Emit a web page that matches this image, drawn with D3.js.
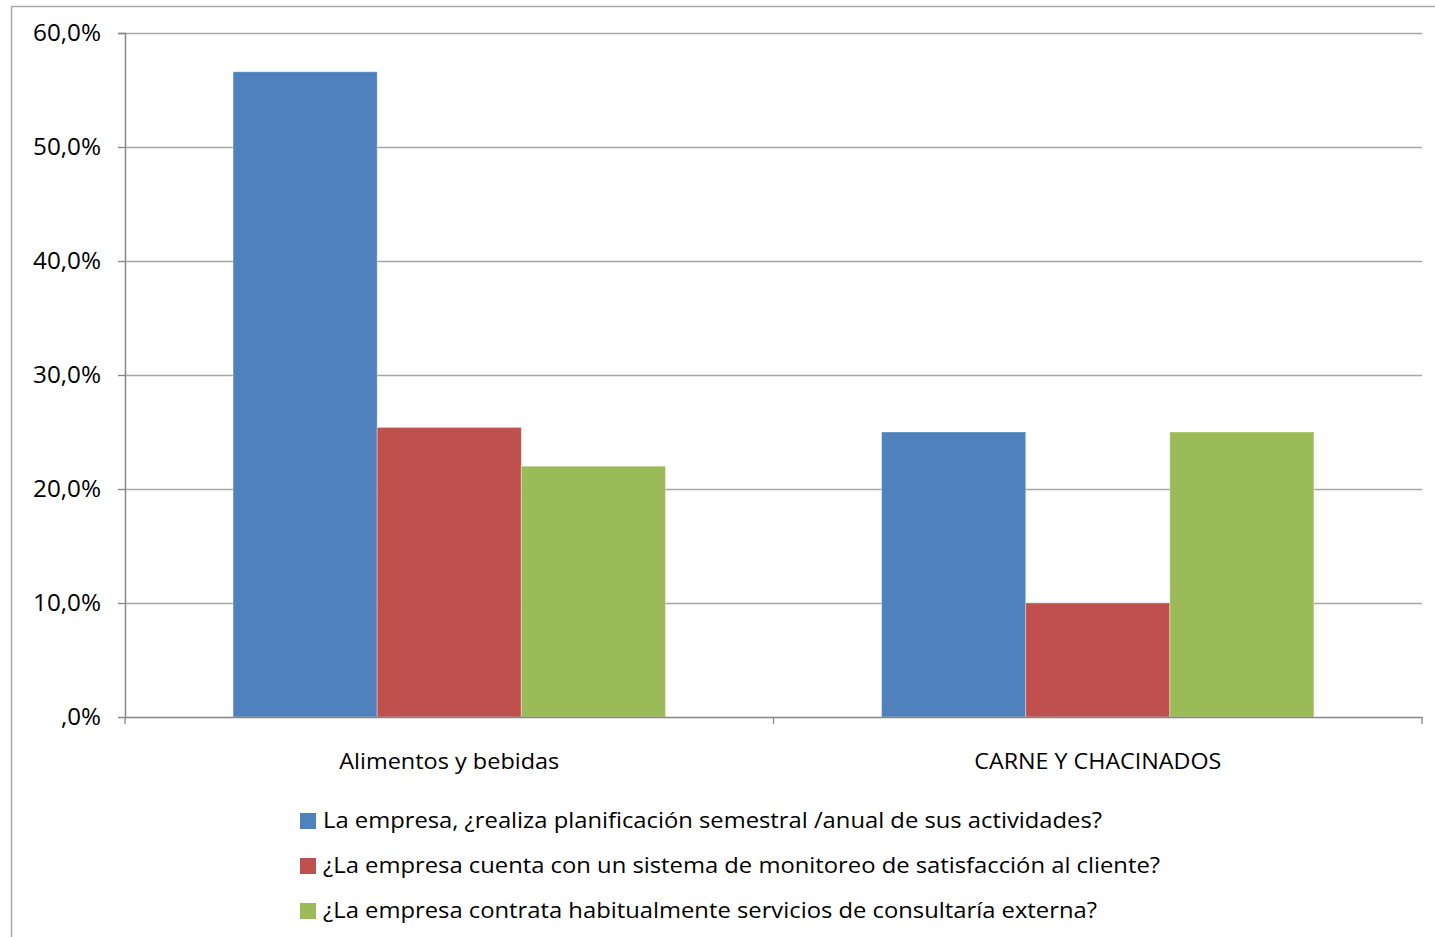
<!DOCTYPE html>
<html>
<head>
<meta charset="utf-8">
<style>
  body { margin: 0; background: #fff; }
  text { font-family: "Open Sans", "Noto Sans", sans-serif; fill: #000; }
</style>
</head>
<body>
<div id="container"></div>
<script src="https://cdn.jsdelivr.net/npm/d3@7"></script>
<script>
// data
const categories = ["Alimentos y bebidas", "CARNE Y CHACINADOS"];
const series = [
  "La empresa, ¿realiza planificación semestral /anual de sus actividades?",
  "¿La empresa cuenta con un sistema de monitoreo de satisfacción al cliente?",
  "¿La empresa contrata habitualmente servicios de consultaría externa?"
];
const planificacion = [56.6, 25.0];
const monitoreo = [25.4, 10.0];
const consultoria = [22.0, 25.0];
const yTicks = [0, 10, 20, 30, 40, 50, 60];
const colors = ["#4F81BD", "#C0504D", "#9BBB59"];

const values = [planificacion, monitoreo, consultoria];
const rows = [];
categories.forEach((c, ci) => series.forEach((s, si) => rows.push({ cat: c, ser: s, si, v: values[si][ci] })));

const width = 1435, height = 937;
const plot = { left: 125, right: 1422, top: 33, bottom: 717 };

const svg = d3.create("svg").attr("width", width).attr("height", height);

// outer chart frame
svg.append("path")
  .attr("d", `M11.5,${height} V6.5 H${width}`)
  .attr("fill", "none").attr("stroke", "#a6a6a6").attr("stroke-width", 1.5);

const y = d3.scaleLinear().domain([0, 60]).range([plot.bottom, plot.top]);
const x0 = d3.scaleBand().domain(categories).range([plot.left, plot.right]).paddingInner(0).paddingOuter(0);
const bw = x0.bandwidth() / 4.5;
const x1 = d3.scaleBand().domain(series).range([0, bw * 3]);

const fmt = v => v === 0 ? ",0%" : d3.format(".1f")(v).replace(".", ",") + "%";

// gridlines
svg.append("g").selectAll("line").data(yTicks.filter(t => t > 0)).join("line")
  .attr("x1", plot.left - 7).attr("x2", plot.right)
  .attr("y1", d => Math.round(y(d)) + 0.5).attr("y2", d => Math.round(y(d)) + 0.5)
  .attr("stroke", "#a6a6a6").attr("stroke-width", 1.3);

// bars
svg.append("g").selectAll("rect").data(rows).join("rect")
  .attr("x", d => x0(d.cat) + bw * 0.75 + x1(d.ser))
  .attr("y", d => y(d.v))
  .attr("width", x1.bandwidth())
  .attr("height", d => y(0) - y(d.v))
  .attr("fill", d => colors[d.si])
  .attr("stroke", "rgba(255,255,255,0.35)").attr("stroke-width", 1);

// y axis
const yAxis = svg.append("g").attr("transform", `translate(${plot.left},0)`)
  .call(d3.axisLeft(y).tickValues(yTicks).tickFormat(fmt).tickSize(7).tickPadding(17));
yAxis.select(".domain").attr("stroke", "#868686").attr("stroke-width", 1.5);
yAxis.selectAll(".tick line").attr("stroke", "#868686");
yAxis.selectAll("text").attr("font-size", 24).attr("fill", "#000").style("font-family", '"Open Sans", sans-serif')
  .attr("textLength", d => d === 0 ? 40 : 68).attr("lengthAdjust", "spacingAndGlyphs");

// x axis
const xAxis = svg.append("g").attr("transform", `translate(0,${plot.bottom})`)
  .call(d3.axisBottom(x0).tickSize(0).tickPadding(36));
xAxis.select(".domain").attr("stroke", "#868686").attr("stroke-width", 1.5);
xAxis.selectAll("text").attr("font-size", 22).attr("fill", "#000").style("font-family", '"Open Sans", sans-serif')
  .attr("textLength", (d, i) => [220, 247][i]).attr("lengthAdjust", "spacingAndGlyphs");
svg.append("g").selectAll("line").data([plot.left, x0(categories[1]), plot.right]).join("line")
  .attr("x1", d => d).attr("x2", d => d)
  .attr("y1", plot.bottom).attr("y2", plot.bottom + 7)
  .attr("stroke", "#868686").attr("stroke-width", 1.3);

// legend
const textLens = [779, 837, 774];
const lg = svg.append("g").selectAll("g").data(series).join("g")
  .attr("transform", (d, i) => `translate(300,${820 + i * 45})`);
lg.append("rect").attr("x", 0).attr("y", -7).attr("width", 16).attr("height", 16)
  .attr("fill", (d, i) => colors[i]);
lg.append("text").attr("x", 23).attr("y", 8).attr("font-size", 22)
  .attr("textLength", (d, i) => textLens[i]).attr("lengthAdjust", "spacingAndGlyphs")
  .text(d => d);

document.getElementById("container").append(svg.node());
</script>
</body>
</html>
